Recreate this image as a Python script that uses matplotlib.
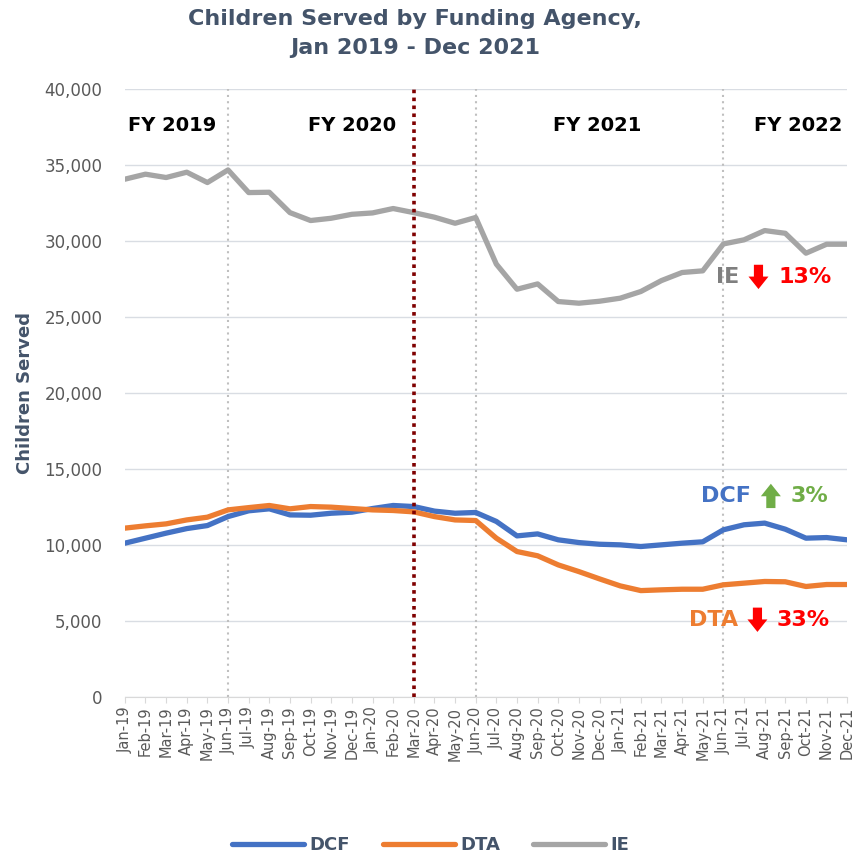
import matplotlib.pyplot as plt
import numpy as np

months = ['Jan-19', 'Feb-19', 'Mar-19', 'Apr-19', 'May-19', 'Jun-19', 'Jul-19', 'Aug-19',
          'Sep-19', 'Oct-19', 'Nov-19', 'Dec-19', 'Jan-20', 'Feb-20', 'Mar-20', 'Apr-20',
          'May-20', 'Jun-20', 'Jul-20', 'Aug-20', 'Sep-20', 'Oct-20', 'Nov-20', 'Dec-20',
          'Jan-21', 'Feb-21', 'Mar-21', 'Apr-21', 'May-21', 'Jun-21', 'Jul-21', 'Aug-21',
          'Sep-21', 'Oct-21', 'Nov-21', 'Dec-21']

dcf = [10110, 10440, 10770, 11070, 11270, 11860, 12240, 12370, 11970, 11950, 12080, 12150,
       12390, 12590, 12520, 12220, 12080, 12130, 11540, 10590, 10720, 10330, 10150, 10040,
       10000, 9890, 10000, 10110, 10200, 10990, 11320, 11430, 11030, 10440, 10480, 10330]
dta = [11100, 11250, 11380, 11640, 11820, 12300, 12450, 12590, 12370, 12520, 12480, 12390,
       12300, 12260, 12170, 11860, 11640, 11600, 10440, 9560, 9280, 8680, 8240, 7760,
       7300, 6990, 7040, 7080, 7080, 7370, 7480, 7590, 7570, 7260, 7390, 7390]
ie = [34060, 34390, 34170, 34520, 33840, 34670, 33180, 33200, 31860, 31340, 31490, 31750,
      31840, 32130, 31860, 31560, 31160, 31540, 28470, 26820, 27170, 26010, 25900, 26030,
      26230, 26670, 27390, 27920, 28030, 29800, 30070, 30680, 30500, 29190, 29780, 29780]

fy_labels = ['FY 2019', 'FY 2020', 'FY 2021', 'FY 2022']
fy_pos = [2.3, 11.0, 22.9, 32.6]
fy_breaks = [5, 17, 29]
covid_month = 14

slate = '#44546A'
grey_txt = '#595959'

fig = plt.figure(figsize=(8.61, 8.55), dpi=100)
ax = fig.add_axes([0.145, 0.185, 0.839, 0.711])

x = np.arange(len(months))
ax.plot(x, dcf, color='#4472C4', lw=3.8, label='DCF', solid_capstyle='round')
ax.plot(x, dta, color='#ED7D31', lw=3.8, label='DTA', solid_capstyle='round')
ax.plot(x, ie, color='#A5A5A5', lw=3.8, label='IE', solid_capstyle='round')

for b in fy_breaks:
    ax.axvline(b, color='#BFBFBF', lw=1.5, ls=(0, (1, 2)), zorder=1)
ax.axvline(covid_month, color='#7F0000', lw=2.6, ls=(0, (1, 1.2)), zorder=3)

for lab, p in zip(fy_labels, fy_pos):
    ax.text(p, 37600, lab, ha='center', va='center', fontsize=14, fontweight='bold', color='black')

# change annotations
arrow_style = 'simple,head_width=1.2,head_length=0.75,tail_width=0.55'

def change_label(name, name_col, xr, y, arrow_up, arrow_col, pct):
    ax.text(xr, y, name, ha='right', va='center', fontsize=16, fontweight='bold', color=name_col)
    xa = xr + 0.95
    sign = 1 if arrow_up else -1
    ax.annotate('', xy=(xa, y + sign * 800), xytext=(xa, y - sign * 800),
                arrowprops=dict(arrowstyle=arrow_style, color=arrow_col, lw=0,
                                mutation_scale=12, shrinkA=0, shrinkB=0))
    ax.text(xa + 0.95, y, pct, ha='left', va='center', fontsize=16, fontweight='bold', color=arrow_col)

change_label('IE', '#7F7F7F', 29.75, 27630, False, '#FF0000', '13%')
change_label('DCF', '#4472C4', 30.35, 13220, True, '#70AD47', '3%')
change_label('DTA', '#ED7D31', 29.7, 5070, False, '#FF0000', '33%')

ax.set_xlim(0, len(months) - 1)
ax.set_ylim(0, 40000)
ax.set_yticks(range(0, 40001, 5000))
ax.set_yticklabels([f'{v:,}' for v in range(0, 40001, 5000)], fontsize=12, color=grey_txt)
ax.set_xticks(x)
ax.set_xticklabels(months, rotation=90, fontsize=10.5, color=grey_txt)
ax.tick_params(axis='y', length=0, pad=16)
ax.tick_params(axis='x', length=4, color='#D9D9D9', pad=3)
ax.grid(axis='y', color='#D9DDE3', lw=1)
ax.set_axisbelow(True)
for s in ['top', 'right', 'left']:
    ax.spines[s].set_visible(False)
ax.spines['bottom'].set_color('#D9D9D9')
ax.set_ylabel('Children Served', fontsize=13, fontweight='bold', color=slate, labelpad=8)

fig.suptitle('Children Served by Funding Agency,\nJan 2019 - Dec 2021', x=0.482, y=0.99,
             fontsize=16, fontweight='bold', color=slate, linespacing=1.6)

leg = fig.legend(loc='lower center', bbox_to_anchor=(0.5, -0.018), ncol=3, frameon=False,
                 handlelength=4, columnspacing=1.8, handletextpad=0.3,
                 prop={'weight': 'bold', 'size': 13})
for t in leg.get_texts():
    t.set_color(slate)

fig.savefig('out.png', dpi=100)
